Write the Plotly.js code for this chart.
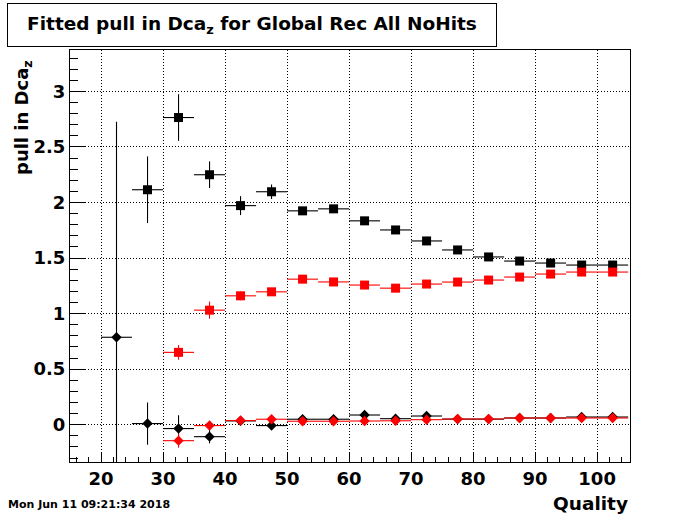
<!DOCTYPE html>
<html>
<head>
<meta charset="utf-8">
<script src="https://cdn.plot.ly/plotly-3.0.1.min.js"></script>
<style>html,body{margin:0;padding:0;background:#fff;}</style>
</head>
<body>
<div id="chart" style="width:700px;height:514px;"></div>
<script>
// Bin centres (Quality), bin half width 2.5
const binHalfWidth = 2.5;

// Black squares
const sqBlackX = [27.5, 32.5, 37.5, 42.5, 47.5, 52.5, 57.5, 62.5, 67.5, 72.5, 77.5, 82.5, 87.5, 92.5, 97.5, 102.5];
const sqBlackY = [2.115, 2.765, 2.25, 1.972, 2.097, 1.925, 1.943, 1.835, 1.753, 1.654, 1.573, 1.51, 1.473, 1.455, 1.437, 1.437];
const sqBlackErr = [0.30, 0.21, 0.12, 0.085, 0.065, 0.03, 0.03, 0.025, 0.02, 0.02, 0.02, 0.02, 0.02, 0.02, 0.02, 0.02];

// Red squares
const sqRedX = [32.5, 37.5, 42.5, 47.5, 52.5, 57.5, 62.5, 67.5, 72.5, 77.5, 82.5, 87.5, 92.5, 97.5, 102.5];
const sqRedY = [0.651, 1.031, 1.16, 1.196, 1.31, 1.285, 1.257, 1.229, 1.266, 1.284, 1.302, 1.329, 1.356, 1.374, 1.374];
const sqRedErr = [0.066, 0.077, 0.04, 0.03, 0.02, 0.02, 0.02, 0.02, 0.02, 0.02, 0.02, 0.02, 0.02, 0.02, 0.02];

// Black diamonds
const dmBlackX = [22.5, 27.5, 32.5, 37.5, 42.5, 47.5, 52.5, 57.5, 62.5, 67.5, 72.5, 77.5, 82.5, 87.5, 92.5, 97.5, 102.5];
const dmBlackY = [0.787, 0.01, -0.035, -0.108, 0.034, -0.008, 0.049, 0.049, 0.087, 0.054, 0.078, 0.05, 0.05, 0.06, 0.06, 0.069, 0.069];
const dmBlackErr = [1.94, 0.19, 0.12, 0.06, 0.03, 0.02, 0.02, 0.02, 0.02, 0.02, 0.02, 0.02, 0.02, 0.02, 0.02, 0.02, 0.02];

// Red diamonds
const dmRedX = [32.5, 37.5, 42.5, 47.5, 52.5, 57.5, 62.5, 67.5, 72.5, 77.5, 82.5, 87.5, 92.5, 97.5, 102.5];
const dmRedY = [-0.144, -0.008, 0.037, 0.049, 0.031, 0.031, 0.033, 0.035, 0.045, 0.051, 0.051, 0.06, 0.06, 0.06, 0.06];
const dmRedErr = [0.063, 0.03, 0.02, 0.02, 0.02, 0.02, 0.02, 0.02, 0.02, 0.02, 0.02, 0.02, 0.02, 0.02, 0.02];

const xTickVals = [20, 30, 40, 50, 60, 70, 80, 90, 100];
const yTickVals = [0, 0.5, 1, 1.5, 2, 2.5, 3];
const yTickText = ['0', '0.5', '1', '1.5', '2', '2.5', '3'];

function mk(x, y, err, color, symbol, size) {
  return {
    type: 'scatter', mode: 'markers', x: x, y: y,
    marker: {color: color, symbol: symbol, size: size, line: {width: 0}},
    error_x: {type: 'constant', value: binHalfWidth, color: color, thickness: 1.1, width: 0},
    error_y: {type: 'data', array: err, color: color, thickness: 1.1, width: 0},
    showlegend: false, hoverinfo: 'x+y'
  };
}

const data = [
  mk(sqBlackX, sqBlackY, sqBlackErr, '#000000', 'square', 9),
  mk(sqRedX, sqRedY, sqRedErr, '#ff0000', 'square', 9),
  mk(dmBlackX, dmBlackY, dmBlackErr, '#000000', 'diamond', 8),
  mk(dmRedX, dmRedY, dmRedErr, '#ff0000', 'diamond', 8)
];

const FAM = 'DejaVu Sans, sans-serif';

const layout = {
  width: 700, height: 514,
  margin: {l: 70, r: 70, t: 50, b: 52},
  paper_bgcolor: '#fff', plot_bgcolor: '#fff',
  font: {family: FAM, color: '#000', size: 18},
  xaxis: {
    range: [15, 105.3], tickvals: xTickVals, ticks: 'inside', ticklen: 10, tickwidth: 1, tickcolor: '#000',
    minor: {dtick: 2, tick0: 0, ticks: 'inside', ticklen: 5, tickcolor: '#000', showgrid: false},
    showgrid: true, gridcolor: '#000', gridwidth: 1, griddash: '1px,2px',
    showline: true, linecolor: '#000', linewidth: 1, mirror: true, zeroline: false,
    tickfont: {family: FAM, size: 18, weight: 'bold', color: '#000'}
  },
  yaxis: {
    range: [-0.336, 3.373], tickvals: yTickVals, ticktext: yTickText, ticks: 'inside', ticklen: 16, tickwidth: 1, tickcolor: '#000',
    minor: {dtick: 0.1, tick0: 0, ticks: 'inside', ticklen: 8, tickcolor: '#000', showgrid: false},
    showgrid: true, gridcolor: '#000', gridwidth: 1, griddash: '1px,2px',
    showline: true, linecolor: '#000', linewidth: 1, mirror: true, zeroline: false,
    tickfont: {family: FAM, size: 18, weight: 'bold', color: '#000'}
  },
  annotations: [
    {text: '<b>Fitted pull in Dca<sub>z</sub> for Global Rec All NoHits</b>', xref: 'paper', yref: 'paper',
     x: (252 - 70) / 560, y: (462 - 25) / 412, xanchor: 'center', yanchor: 'middle', showarrow: false,
     width: 488, height: 42, borderpad: 0, bordercolor: '#000', borderwidth: 1, bgcolor: '#fff',
     font: {family: FAM, size: 18.5, color: '#000'}},
    {text: '<b>pull in Dca<sub>z</sub></b>', xref: 'paper', yref: 'paper', textangle: -90,
     x: (23 - 70) / 560, y: (462 - 118) / 412, xanchor: 'center', yanchor: 'middle', showarrow: false,
     font: {family: FAM, size: 18, color: '#000'}},
    {text: '<b>Quality</b>', xref: 'paper', yref: 'paper',
     x: 1, y: (462 - 503) / 412, xanchor: 'right', yanchor: 'middle', showarrow: false,
     font: {family: FAM, size: 18.5, color: '#000'}},
    {text: '<b>Mon Jun 11 09:21:34 2018</b>', xref: 'paper', yref: 'paper',
     x: (6 - 70) / 560, y: (462 - 504) / 412, xanchor: 'left', yanchor: 'middle', showarrow: false,
     font: {family: FAM, size: 11, color: '#000'}}
  ]
};

Plotly.newPlot('chart', data, layout, {displayModeBar: false, staticPlot: true});
</script>
</body>
</html>
